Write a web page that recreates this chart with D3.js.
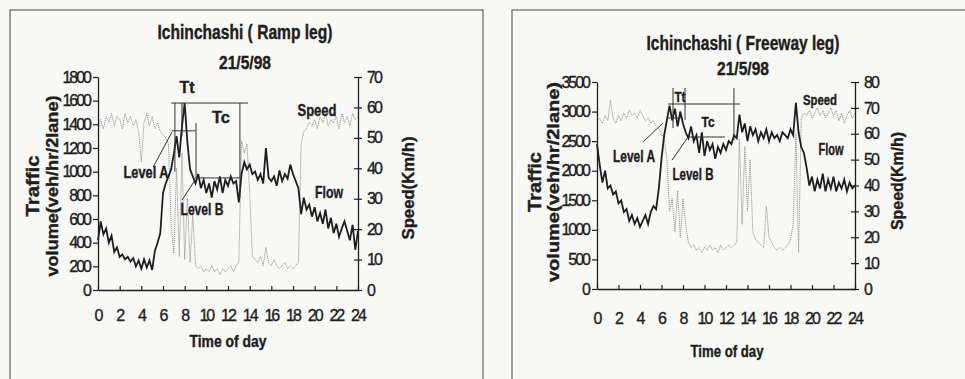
<!DOCTYPE html>
<html>
<head>
<meta charset="utf-8">
<script src="https://cdn.jsdelivr.net/npm/d3@7"></script>
<style>
  body { margin: 0; background: #f8f8f6; }
  svg { display: block; font-family: "Liberation Sans", Arial, sans-serif; }
</style>
</head>
<body>
<div id="container"></div>
<script>
// quarter-hour sample times, 0h .. 24h
const hours = d3.range(97).map(i => i / 4);

const rampFlow = [
  420, 580, 470, 520, 400, 460, 320, 360, 280, 300, 260, 280, 240, 270, 200, 250,
  180, 260, 190, 250, 170, 330, 400, 480, 820, 900, 960, 1020, 1150, 1300, 1120, 1380,
  1580, 1250, 1020, 960, 900, 980, 860, 930, 820, 900, 780, 920, 850, 960, 820, 930,
  880, 960, 900, 920, 740, 980, 1080, 1020, 1060, 980, 1000, 930, 980, 900, 1200, 950,
  920, 960, 880, 1010, 920, 980, 940, 1060, 980, 920, 860, 640, 780, 680, 720, 620,
  700, 580, 650, 560, 680, 520, 610, 480, 560, 450, 520, 580, 500, 420, 550, 340, 500
];
const rampSpeed = [
  54, 56, 53, 57, 55, 58, 54, 57, 56, 53, 58, 55, 57, 54, 56, 52,
  42, 55, 58, 54, 57, 53, 55, 52, 51, 50, 48, 22, 12, 40, 11, 45,
  10, 30, 9, 25, 8, 7, 8, 6, 7, 6, 8, 6, 7, 5, 7, 6,
  7, 8, 6, 8, 9, 49, 45, 48, 32, 11, 10, 9, 11, 8, 14, 9,
  8, 10, 8, 7, 8, 9, 7, 8, 7, 8, 9, 48, 52, 53, 55, 54,
  56, 53, 57, 55, 58, 54, 56, 55, 57, 53, 58, 55, 57, 54, 58, 56, 57
];
const freewayFlow = [
  2450, 2100, 1800, 2000, 1700, 1750, 1600, 1650, 1450, 1500, 1300, 1350, 1150, 1250, 1100, 1200,
  1050, 1150, 1250, 1100, 1300, 1400, 1350, 1700, 2200, 2600, 2850, 3100, 2850, 3050, 2750, 3000,
  2800, 2650, 2550, 2750, 2500, 2600, 2300, 2650, 2250, 2500, 2350, 2450, 2200, 2400, 2300, 2450,
  2350, 2500, 2450, 2600, 2550, 2950, 2650, 2800, 2500, 2750, 2600, 2700, 2500, 2650, 2550, 2700,
  2500, 2650, 2550, 2600, 2500, 2650, 2600, 2550, 2700, 2600, 3150, 2650, 2400, 2300, 2050, 1750,
  1900, 1650, 1850, 1700, 1950, 1650, 1850, 1700, 1900, 1650, 1800, 1700, 1850, 1650, 1800, 1700, 1750
];
const freewaySpeed = [
  65, 66, 64, 67, 65, 73, 66, 64, 67, 65, 68, 66, 69, 67, 68, 66,
  69, 67, 65, 66, 64, 65, 63, 62, 60, 58, 50, 30, 35, 22, 38, 20,
  35, 25, 18, 16, 17, 15, 16, 14, 16, 15, 17, 15, 16, 14, 17, 15,
  16, 17, 16, 17, 18, 58, 25, 55, 30, 50, 22, 19, 18, 17, 16, 32,
  20, 18, 16, 15, 16, 15, 16, 17, 19, 25, 60, 14, 66, 68, 67, 69,
  66, 68, 70, 67, 69, 66, 68, 70, 67, 69, 65, 68, 64, 67, 69, 66, 68
];

const hourTicks = d3.range(0, 25, 2);

// annotation segments [t1, flow1, t2, flow2]
const rampMarks = [
  [6.75, 1580, 13.85, 1580], [7.1, 1580, 7.1, 1000], [7.75, 1580, 7.75, 1300],
  [9.05, 1410, 9.05, 940], [13.1, 1580, 13.1, 780],
  [6.8, 1345, 9.0, 1345], [5.1, 1040, 6.83, 1335],
  [9.0, 947, 13.1, 947], [7.76, 760, 8.96, 930]
];
const freewayMarks = [
  [6.6, 3128, 13.3, 3128], [7.07, 3400, 7.07, 2720], [8.19, 3400, 8.19, 2860],
  [12.74, 3400, 12.74, 2520],
  [6.5, 2890, 7.9, 2890], [4.28, 2485, 6.14, 2807],
  [8.5, 2570, 11.9, 2570], [6.98, 2180, 8.47, 2570]
];

const panels = [
  {
    box: [10, 10, 473, 420],
    left: 98, right: 358, top: 77, bottom: 290,
    flowMax: 1800, flowStep: 200, speedMax: 70,
    flow: rampFlow, speed: rampSpeed, marks: rampMarks,
    title: "Ichinchashi ( Ramp leg)", titleW: 175, titleX: 245, titleY: 39, dateY: 69,
    tickY: 321, xTitleX: 228, xTitleY: 347, xTitleW: 77,
    yt1X: 39, yt2X: 58, ytY: 186, yt1W: 61, yt2W: 181, stX: 414, stY: 188, stW: 103,
    labels: [
      ["Tt", 187, 93, 15, 16], ["Tc", 221, 123, 18, 17], ["Level A", 146, 178, 45, 17], ["Level B", 202, 215, 43, 17],
      ["Speed", 317, 116, 39, 17], ["Flow", 329, 198, 28, 17]
    ]
  },
  {
    box: [512, 10, 470, 420],
    left: 597, right: 855, top: 82, bottom: 289,
    flowMax: 3500, flowStep: 500, speedMax: 80,
    flow: freewayFlow, speed: freewaySpeed, marks: freewayMarks,
    title: "Ichinchashi ( Freeway leg)", titleW: 193, titleX: 743, titleY: 50, dateY: 75,
    tickY: 324, xTitleX: 727, xTitleY: 357, xTitleW: 73,
    yt1X: 541, yt2X: 559, ytY: 182, yt1W: 60, yt2W: 200, stX: 903, stY: 181, stW: 98,
    labels: [
      ["Tt", 680, 102, 11, 14], ["Tc", 708, 127, 13, 14], ["Level A", 634, 162, 42, 16], ["Level B", 693, 180, 41, 16],
      ["Speed", 820, 105, 34, 15], ["Flow", 831, 155, 25, 16]
    ]
  }
];

const ink = "#1e1e1e";

const svg = d3.select('#container')
  .append('svg')
  .attr('width', 965)
  .attr('height', 379);

const fitText = (sel, w) => sel.attr('textLength', w).attr('lengthAdjust', 'spacingAndGlyphs');

const heavy = (sel, size, w) => sel
  .attr('fill', ink)
  .style('font-size', size + 'px')
  .style('font-weight', 'bold')
  .style('stroke', ink)
  .style('stroke-width', '0.4px')
  .call(fitText, w);

const heavyDigits = sel => sel
  .attr('fill', ink)
  .style('font-size', '16px')
  .style('letter-spacing', '-2px')
  .style('stroke', ink)
  .style('stroke-width', '0.35px');

panels.forEach(p => {
  const g = svg.append('g');

  g.append('rect')
    .attr('x', p.box[0]).attr('y', p.box[1])
    .attr('width', p.box[2]).attr('height', p.box[3])
    .attr('fill', 'none').attr('stroke', '#444').attr('stroke-width', 1);

  const x = d3.scaleLinear().domain([0, 24]).range([p.left, p.right]);
  const y = d3.scaleLinear().domain([0, p.flowMax]).range([p.bottom, p.top]);
  const ys = d3.scaleLinear().domain([0, p.speedMax]).range([p.bottom, p.top]);

  // speed (grey dotted)
  g.append('path')
    .datum(hours.map((h, i) => [h, p.speed[i]]))
    .attr('fill', 'none')
    .attr('stroke', '#9a9a9a')
    .attr('stroke-width', 1)
    .attr('stroke-dasharray', '1.2,0.8')
    .attr('d', d3.line().x(d => x(d[0])).y(d => ys(d[1])));

  // flow (black)
  g.append('path')
    .datum(hours.map((h, i) => [h, p.flow[i]]))
    .attr('fill', 'none')
    .attr('stroke', ink)
    .attr('stroke-width', 1.8)
    .attr('d', d3.line().x(d => x(d[0])).y(d => y(d[1])));

  // annotation lines
  g.selectAll('line.mark')
    .data(p.marks)
    .join('line')
    .attr('class', 'mark')
    .attr('x1', d => x(d[0])).attr('y1', d => y(d[1]))
    .attr('x2', d => x(d[2])).attr('y2', d => y(d[3]))
    .attr('stroke', '#333').attr('stroke-width', 1);

  // axes
  const yAxis = g.append('g')
    .attr('transform', `translate(${p.left},0)`)
    .call(d3.axisLeft(y).tickValues(d3.range(0, p.flowMax + 1, p.flowStep))
      .tickFormat(d3.format('d')).tickSize(5).tickPadding(3).tickSizeOuter(0));

  const sAxis = g.append('g')
    .attr('transform', `translate(${p.right},0)`)
    .call(d3.axisRight(ys).tickValues(d3.range(0, p.speedMax + 1, 10))
      .tickFormat(d3.format('d')).tickSize(4).tickPadding(5).tickSizeOuter(0));
  sAxis.selectAll('.tick line').attr('x1', -4);

  const xAxis = g.append('g')
    .attr('transform', `translate(0,${p.bottom})`)
    .call(d3.axisBottom(x).tickValues(hourTicks).tickSize(-4).tickFormat('').tickSizeOuter(0));

  [yAxis, sAxis, xAxis].forEach(a => {
    a.select('.domain').attr('stroke', ink).attr('stroke-width', 1.3);
    a.selectAll('.tick line').attr('stroke', ink).attr('stroke-width', 1.2);
    a.selectAll('text').call(heavyDigits);
  });

  g.selectAll('text.xt')
    .data(hourTicks)
    .join('text')
    .attr('class', 'xt')
    .attr('x', d => x(d))
    .attr('y', p.tickY)
    .attr('text-anchor', 'middle')
    .call(heavyDigits)
    .text(d => d);

  // titles
  g.append('text')
    .attr('x', p.titleX).attr('y', p.titleY)
    .attr('text-anchor', 'middle')
    .text(p.title)
    .call(heavy, 20, p.titleW);

  g.append('text')
    .attr('x', p.titleX).attr('y', p.dateY)
    .attr('text-anchor', 'middle')
    .text('21/5/98')
    .call(heavy, 19, 52);

  g.append('text')
    .attr('x', p.xTitleX).attr('y', p.xTitleY)
    .attr('text-anchor', 'middle')
    .text('Time of day')
    .call(heavy, 17, p.xTitleW);

  g.append('text')
    .attr('transform', `translate(${p.yt1X},${p.ytY}) rotate(-90)`)
    .attr('text-anchor', 'middle')
    .text('Traffic')
    .call(heavy, 18, p.yt1W);

  g.append('text')
    .attr('transform', `translate(${p.yt2X},${p.ytY}) rotate(-90)`)
    .attr('text-anchor', 'middle')
    .text('volume(veh/hr/2lane)')
    .call(heavy, 17, p.yt2W);

  g.append('text')
    .attr('transform', `translate(${p.stX},${p.stY}) rotate(-90)`)
    .attr('text-anchor', 'middle')
    .text('Speed(Km/h)')
    .call(heavy, 17, p.stW);

  g.selectAll('text.lab')
    .data(p.labels)
    .join('text')
    .attr('class', 'lab')
    .attr('x', d => d[1]).attr('y', d => d[2])
    .attr('text-anchor', 'middle')
    .text(d => d[0])
    .each(function (d) { heavy(d3.select(this), d[4], d[3]); });
});
</script>
</body>
</html>
